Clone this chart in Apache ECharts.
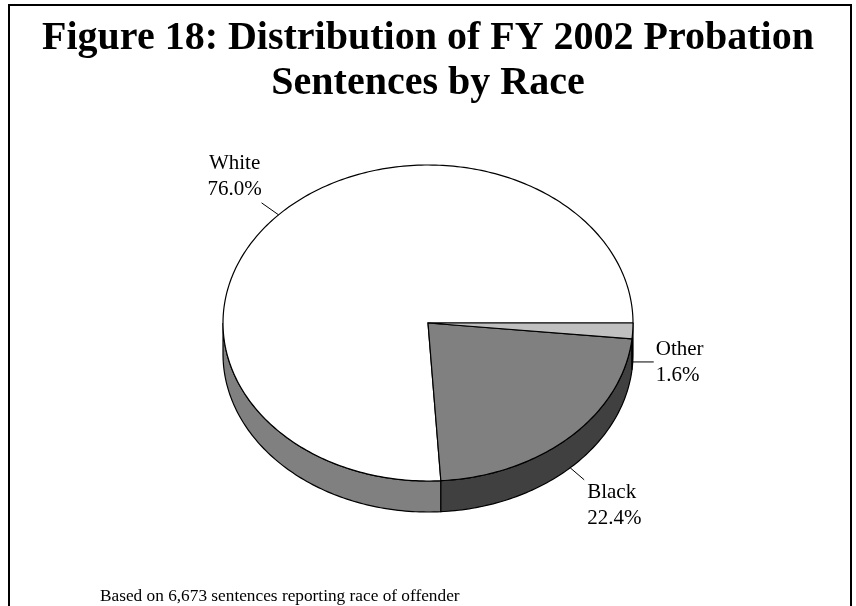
<!DOCTYPE html>
<html>
<head>
<meta charset="utf-8">
<script src="https://cdn.jsdelivr.net/npm/echarts@6/dist/echarts.min.js"></script>
<style>
html,body{margin:0;padding:0;background:#fff;}
#main{width:856px;height:606px;}
</style>
</head>
<body>
<div id="main"></div>
<script>
// ---- data ----
var categories = ['White', 'Black', 'Other'];
var percentages = [76.0, 22.4, 1.6];
var titleText = 'Figure 18: Distribution of FY 2002 Probation\nSentences by Race';
var footnoteText = 'Based on 6,673 sentences reporting race of offender';

// ---- styles ----
var topColors = ['#FFFFFF', '#808080', '#C0C0C0'];
var sideColors = ['#808080', '#404040', '#606060'];
var leaderDelta = [[-17, -12], [14, 12], [21, 0]];
var labelAlign = [['center', 'bottom', -27, 0], ['left', 'top', 3, 0], ['left', 'middle', 2, 1]];
var CX = 428, CY = 323, RX = 205, RY = 158, DEPTH = 31;
var FONT = '"Liberation Serif", "Times New Roman", serif';

var chart = echarts.init(document.getElementById('main'), null, {renderer: 'canvas'});

function arcPts(a, b, dy) {
  var n = Math.max(2, Math.ceil(Math.abs(b - a) / (Math.PI / 180)));
  var pts = [];
  for (var k = 0; k <= n; k++) {
    var t = a + (b - a) * k / n;
    pts.push([CX + RX * Math.cos(t), CY + RY * Math.sin(t) + dy]);
  }
  return pts;
}

function renderItem(params, api) {
  var i = params.dataIndex;
  var total = 0, before = 0;
  for (var j = 0; j < percentages.length; j++) {
    total += percentages[j];
    if (j < i) before += percentages[j];
  }
  var v = api.value(0);
  var k = 2 * Math.PI / total;
  var a = 2 * Math.PI - (before + v) * k;
  var b = 2 * Math.PI - before * k;
  var children = [];
  // side walls (front half only)
  [[0, Math.PI], [2 * Math.PI, 3 * Math.PI]].forEach(function (iv) {
    var s = Math.max(a, iv[0]), e = Math.min(b, iv[1]);
    if (e > s) {
      var pts = arcPts(s, e, 0).concat(arcPts(e, s, DEPTH));
      children.push({
        type: 'polygon', z2: 1,
        shape: {points: pts},
        style: {fill: sideColors[i], stroke: '#000', lineWidth: 1.2}
      });
    }
  });
  // top face
  var topPts = [[CX, CY]].concat(arcPts(a, b, 0));
  children.push({
    type: 'polygon', z2: 10,
    shape: {points: topPts},
    style: {fill: topColors[i], stroke: '#000', lineWidth: 1.2}
  });
  // label + leader
  var m = (a + b) / 2;
  var sx = CX + RX * Math.cos(m);
  var sy = CY + RY * Math.sin(m) + (Math.sin(m) > 0 ? DEPTH : 0);
  var ex = sx + leaderDelta[i][0], ey = sy + leaderDelta[i][1];
  children.push({
    type: 'line', z2: 20,
    shape: {x1: sx, y1: sy, x2: ex, y2: ey},
    style: {stroke: '#000', lineWidth: 1}
  });
  var la = labelAlign[i];
  children.push({
    type: 'text', z2: 20,
    x: ex + la[2], y: ey + la[3],
    style: {
      text: categories[i] + '\n' + v.toFixed(1) + '%',
      fill: '#000',
      fontSize: 21,
      fontFamily: FONT,
      lineHeight: 26,
      align: la[0],
      verticalAlign: la[1]
    }
  });
  return {type: 'group', children: children};
}

var option = {
  backgroundColor: '#FFFFFF',
  animation: false,
  title: [
    {
      text: titleText,
      left: 'center', top: 16, padding: 0,
      textStyle: {fontFamily: FONT, fontSize: 40, fontWeight: 'bold', lineHeight: 45, color: '#000'}
    },
    {
      text: footnoteText,
      left: 100, top: 588, padding: 0,
      textStyle: {fontFamily: FONT, fontSize: 17.3, fontWeight: 'normal', color: '#000'}
    }
  ],
  graphic: [{
    type: 'rect', silent: true,
    shape: {x: 9, y: 5, width: 842, height: 640},
    style: {fill: 'none', stroke: '#000', lineWidth: 2}
  }],
  series: [{
    type: 'custom',
    coordinateSystem: 'none',
    renderItem: renderItem,
    data: percentages.map(function (p, idx) { return {name: categories[idx], value: [p]}; })
  }]
};
chart.setOption(option);
</script>
</body>
</html>
